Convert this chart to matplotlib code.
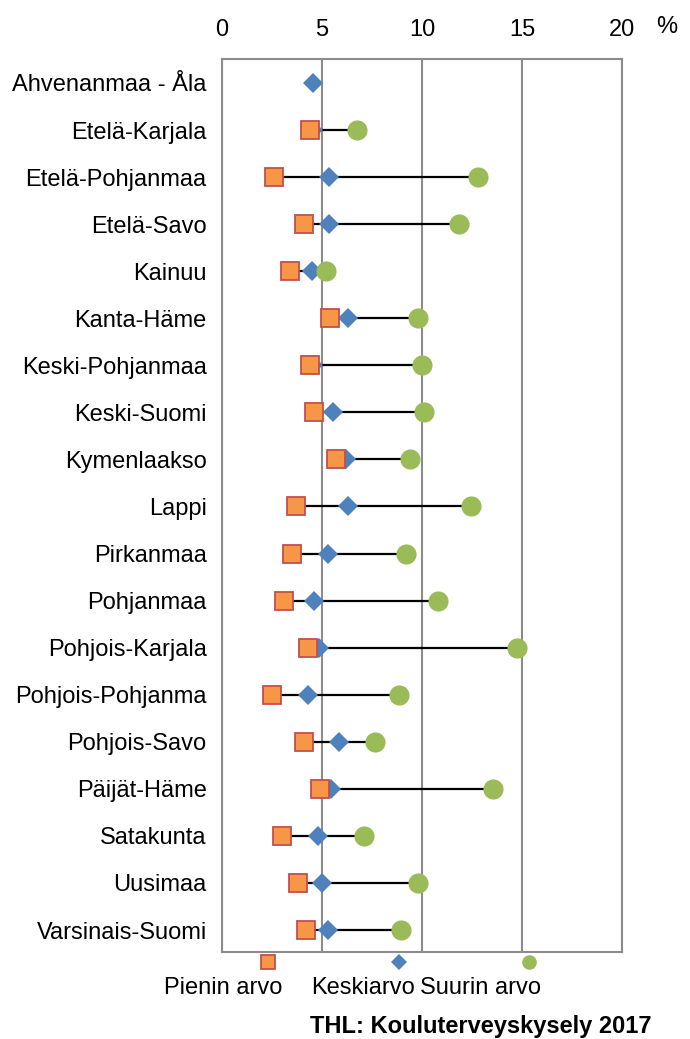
import numpy as np
import matplotlib
matplotlib.use("Agg")
import matplotlib.pyplot as plt
from matplotlib.lines import Line2D

plt.rcParams["font.family"] = ["Liberation Sans", "DejaVu Sans"]

regions = [
    "Ahvenanmaa - Åla", "Etelä-Karjala", "Etelä-Pohjanmaa", "Etelä-Savo",
    "Kainuu", "Kanta-Häme", "Keski-Pohjanmaa", "Keski-Suomi", "Kymenlaakso",
    "Lappi", "Pirkanmaa", "Pohjanmaa", "Pohjois-Karjala", "Pohjois-Pohjanma",
    "Pohjois-Savo", "Päijät-Häme", "Satakunta", "Uusimaa", "Varsinais-Suomi",
]
# percent values
min_vals = [np.nan, 4.4, 2.6, 4.1, 3.4, 5.4, 4.4, 4.6, 5.7, 3.7, 3.5, 3.1,
            4.3, 2.5, 4.1, 4.9, 3.0, 3.8, 4.2]
mean_vals = [4.55, 4.55, 5.35, 5.35, 4.5, 6.3, 4.55, 5.55, 6.2, 6.3, 5.3, 4.6,
             4.85, 4.3, 5.85, 5.45, 4.8, 5.0, 5.3]
max_vals = [np.nan, 6.75, 12.8, 11.85, 5.2, 9.8, 10.0, 10.1, 9.4, 12.45, 9.2,
            10.8, 14.75, 8.85, 7.65, 13.55, 7.1, 9.8, 8.95]
x_ticks = [0, 5, 10, 15, 20]

ORANGE = "#F79646"
RED = "#C0504D"
BLUE = "#4F81BD"
GREEN = "#9BBB59"
GRID = "#8C8C8C"
FS = 17

fig = plt.figure(figsize=(6.9, 10.39), dpi=100)
ax = fig.add_axes([222 / 690, 1 - 952 / 1039, 400 / 690, 893 / 1039])

y = np.arange(len(regions))
ax.hlines(y, min_vals, max_vals, color="black", lw=1.6, zorder=2)
ax.plot(mean_vals, y, "D", color=BLUE, ms=10, mew=0, zorder=3)
ax.plot(min_vals, y, "s", mfc=ORANGE, mec=RED, ms=13.5, mew=1.3, zorder=4)
ax.plot(max_vals, y, "o", color=GREEN, ms=14.5, mew=0, zorder=5)

ax.set_xlim(0, 20)
ax.set_ylim(18 + 22 / 47.06, -24 / 47.06)
ax.set_xticks(x_ticks)
ax.set_xticklabels([str(t) for t in x_ticks], fontsize=FS)
ax.xaxis.tick_top()
ax.set_yticks(y)
ax.set_yticklabels(regions, fontsize=FS)
ax.tick_params(axis="x", length=0, pad=13)
ax.tick_params(axis="y", length=0, pad=11)
ax.grid(axis="x", color=GRID, lw=1.5, zorder=1)
for s in ax.spines.values():
    s.set_color(GRID)
    s.set_linewidth(1.5)

fig.text(667 / 690, 1 - 27 / 1039, "%", fontsize=FS, ha="center", va="center")

# legend below the plot
leg_y = 1 - 962 / 1039
fig.add_artist(Line2D([268 / 690], [leg_y], marker="s", mfc=ORANGE, mec=RED,
                      ms=9.5, mew=1.3, transform=fig.transFigure))
fig.add_artist(Line2D([399 / 690], [leg_y], marker="D", color=BLUE, ms=8.5,
                      mew=0, transform=fig.transFigure))
fig.add_artist(Line2D([529 / 690], [leg_y], marker="o", color=GREEN, ms=10.5,
                      mew=0, transform=fig.transFigure))
lab_y = 1 - 988 / 1039
fig.text(223 / 690, lab_y, "Pienin arvo", fontsize=FS, ha="center", va="center")
fig.text(363 / 690, lab_y, "Keskiarvo", fontsize=FS, ha="center", va="center")
fig.text(481 / 690, lab_y, "Suurin arvo", fontsize=FS, ha="center", va="center")

fig.text(652 / 690, 1 - 1026 / 1039, "THL: Kouluterveyskysely 2017",
         fontsize=FS, fontweight="bold", ha="right", va="center")

fig.savefig("out.png", dpi=100)
